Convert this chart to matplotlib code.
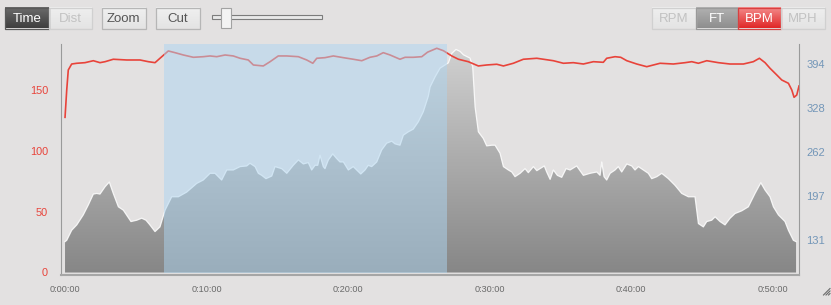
import numpy as np
import matplotlib
matplotlib.use("Agg")
import matplotlib.pyplot as plt
from matplotlib.colors import LinearSegmentedColormap
from matplotlib.patches import Rectangle

plt.rcParams["font.family"] = ["Liberation Sans", "DejaVu Sans"]

BG = "#e3e1e1"
RED = "#e8433a"
STEEL = "#7396b8"

# elevation trace (FT, right axis) against elapsed minutes
elev_t = [0.0, 0.12, 0.47, 0.83, 1.29, 1.65, 2.00, 2.24, 2.47, 2.83, 3.13, 3.41, 3.77,
          4.12, 4.66, 5.07, 5.42, 5.72, 5.96, 6.36, 6.71, 7.07, 7.54, 8.01, 8.60, 9.31,
          9.77, 10.25, 10.60, 10.83, 11.07, 11.43, 11.89, 12.37, 12.84, 13.07, 13.43,
          13.66, 13.90, 14.20, 14.61, 14.84, 15.31, 15.67, 16.13, 16.49, 16.84, 17.19,
          17.43, 17.67, 17.86, 18.02, 18.25, 18.37, 18.61, 18.92, 19.20, 19.43, 19.67,
          20.02, 20.37, 20.61, 20.90, 21.20, 21.43, 21.67, 22.03, 22.38, 22.73, 23.09,
          23.32, 23.67, 23.91, 24.26, 24.61, 24.97, 25.32, 25.67, 25.80, 26.15, 26.50,
          26.86, 27.09, 27.33, 27.63, 27.92, 28.15, 28.62, 28.81, 28.98, 29.21, 29.56,
          29.80, 30.16, 30.39, 30.74, 30.98, 31.33, 31.57, 31.80, 32.16, 32.51, 32.74,
          33.10, 33.34, 33.57, 33.87, 34.04, 34.28, 34.51, 34.79, 35.10, 35.41, 35.69,
          36.16, 36.63, 37.10, 37.58, 37.81, 37.93, 38.09, 38.28, 38.52, 38.87, 39.10,
          39.34, 39.70, 40.05, 40.28, 40.52, 40.87, 41.22, 41.46, 41.82, 42.17, 42.64,
          43.11, 43.58, 44.05, 44.52, 44.76, 45.11, 45.35, 45.70, 45.94, 46.29, 46.64,
          47.00, 47.35, 47.82, 48.29, 48.76, 49.17, 49.47, 49.82, 50.06, 50.41, 50.88,
          51.12, 51.47, 51.66]
elev_ft = [129, 131, 146, 154, 169, 184, 200, 201, 200, 211, 218, 201, 181,
           176, 159, 161, 164, 161, 155, 144, 151, 176, 196, 196, 203, 216,
           221, 231, 231, 226, 221, 236, 236, 241, 242, 246, 241,
           231, 228, 223, 227, 241, 238, 231, 243, 251, 245, 247,
           236, 243, 243, 258, 241, 238, 251, 260, 253, 248, 248,
           236, 241, 236, 230, 236, 243, 241, 248, 266, 276, 279,
           275, 273, 288, 293, 297, 308, 323, 346, 360, 375, 388,
           393, 396, 410, 416, 413, 408, 403, 390, 330, 293, 283,
           272, 273, 273, 261, 241, 236, 233, 226, 231, 238, 232,
           241, 235, 238, 242, 233, 222, 236, 228, 225, 238, 236,
           242, 228, 231, 233, 228, 248, 226, 221, 231, 236, 241,
           233, 245, 242, 236, 241, 236, 231, 223, 226, 231, 223,
           213, 201, 196, 196, 156, 151, 159, 161, 166, 159, 154,
           164, 171, 175, 181, 201, 217, 206, 196, 181, 169, 159,
           146, 131, 129]

# heart rate (BPM, left axis)
hr_t = [0.0, 0.12, 0.23, 0.47, 0.83, 1.41, 2.00, 2.47, 2.83, 3.41, 4.36, 5.30, 5.89,
        6.36, 6.71, 7.30, 7.77, 8.36, 9.07, 9.77, 10.25, 10.72, 11.31, 11.89, 12.37,
        12.95, 13.31, 14.01, 14.49, 15.07, 15.67, 16.49, 17.08, 17.51, 17.79, 18.37,
        18.96, 19.67, 20.37, 20.97, 21.55, 22.03, 22.49, 22.97, 23.67, 24.03, 24.61,
        25.21, 25.62, 26.27, 26.74, 27.33, 27.80, 28.50, 29.21, 29.80, 30.51, 30.98,
        31.68, 32.39, 33.34, 34.51, 35.22, 35.92, 36.63, 37.34, 38.04, 38.28, 38.87,
        39.27, 39.70, 40.40, 41.11, 42.05, 42.99, 43.82, 44.29, 44.76, 45.35, 46.17,
        46.99, 47.94, 48.64, 49.07, 49.47, 49.82, 50.30, 50.65, 51.12, 51.36, 51.52,
        51.71, 51.87]
hr_bpm = [127.2, 149.6, 166.0, 170.9, 171.5, 172.0, 173.6, 172.0, 172.8, 174.8, 174.2,
          174.2, 172.8, 172.0, 175.6, 181.6, 180.2, 178.3, 176.4, 176.9, 177.5, 176.9,
          178.3, 177.5, 175.6, 174.2, 170.1, 169.3, 172.8, 177.5, 177.5, 176.9, 174.2,
          171.5, 175.6, 176.1, 177.5, 176.1, 174.8, 173.6, 176.4, 177.5, 180.2, 178.3,
          174.8, 176.4, 176.4, 176.9, 180.6, 183.8, 181.8, 177.5, 174.8, 172.8, 169.3,
          170.1, 170.7, 169.3, 171.5, 174.8, 175.6, 173.6, 171.5, 172.0, 170.9, 172.8,
          172.3, 175.6, 176.9, 176.4, 173.6, 170.9, 168.7, 171.5, 170.9, 172.0, 172.8,
          171.5, 173.6, 172.0, 170.9, 170.9, 172.8, 175.6, 172.0, 167.4, 161.9, 157.8,
          155.1, 149.6, 143.6, 145.5, 152.9]

sel_start, sel_end = 7.0, 27.0

bpm_ticks = [0, 50, 100, 150]
ft_ticks = [131.4, 197.1, 262.8, 328.5, 394.2]
ft_labels = ["131", "197", "262", "328", "394"]
time_ticks = [0, 10, 20, 30, 40, 50]
time_labels = ["0:00:00", "0:10:00", "0:20:00", "0:30:00", "0:40:00", "0:50:00"]

W, H = 831, 305
fig = plt.figure(figsize=(W / 100, H / 100), dpi=100, facecolor=BG)
grad = np.linspace(0, 1, 256).reshape(-1, 1)

# ---- chart ----
ax = fig.add_axes([60.5 / W, 1 - 275 / H, (799.3 - 60.5) / W, 231 / H])
ax2 = ax.twinx()
ax.set_zorder(ax2.get_zorder() + 1)
ax.patch.set_visible(False)
ax2.patch.set_visible(False)

XLIM = (-0.32, 51.89)
BPM_LIM = (-2.05, 187.3)
FT_LIM = (79.2, 424.1)
FT_FLOOR = 82.9

area = ax2.fill_between(elev_t, elev_ft, FT_FLOOR, color="none", lw=0)
gray = LinearSegmentedColormap.from_list("gray", ["#d2d2d2", "#868686"])
img = ax2.imshow(grad, cmap=gray, extent=(XLIM[0], XLIM[1], FT_LIM[0], FT_LIM[1]),
                 origin="upper", aspect="auto", zorder=1)
img.set_clip_path(area.get_paths()[0], transform=ax2.transData)
ax2.plot(elev_t, elev_ft, color="white", lw=0.9, alpha=0.85, zorder=2)

ax.plot(hr_t, hr_bpm, color=RED, lw=1.2, zorder=3)
ax.axvspan(sel_start, sel_end, ymin=2.5 / 231, ymax=1, facecolor="#add5f1",
           alpha=0.5, lw=0, zorder=5)

ax.set_xlim(*XLIM)
ax.set_ylim(*BPM_LIM)
ax2.set_ylim(*FT_LIM)

ax.set_yticks(bpm_ticks)
ax.set_xticks(time_ticks)
ax.set_xticklabels(time_labels)
ax2.set_yticks(ft_ticks)
ax2.set_yticklabels(ft_labels)

ax.tick_params(axis="y", length=0, pad=9, labelsize=7.8, labelcolor=RED)
ax.tick_params(axis="x", length=0, pad=7, labelsize=6.6, labelcolor="#6a6a6a")
ax2.tick_params(axis="y", length=0, pad=5, labelsize=8, labelcolor=STEEL)

for s in ("top", "right"):
    ax.spines[s].set_visible(False)
for s in ("top", "left", "bottom"):
    ax2.spines[s].set_visible(False)
ax.spines["left"].set_color("#9a9a9a")
ax.spines["bottom"].set_color("#a6a6a6")
ax.spines["bottom"].set_linewidth(1.5)
ax2.spines["right"].set_color("#9a9a9a")

# ---- toolbar ----
ui = fig.add_axes([0, 0, 1, 1], zorder=-1)
ui.patch.set_visible(False)
ui.axis("off")


def button(x0, x1, label, top, bottom, edge, tcolor):
    y0, y1 = 7.5, 28.5
    cm = LinearSegmentedColormap.from_list(label, [top, bottom])
    ui.imshow(grad, cmap=cm, extent=(x0, x1, y1, y0), origin="upper", aspect="auto")
    ui.add_patch(Rectangle((x0, y0), x1 - x0, y1 - y0, fc="none", ec=edge, lw=0.9))
    ui.text((x0 + x1) / 2, (y0 + y1) / 2 + 0.5, label, ha="center", va="center",
            fontsize=9.5, color=tcolor)


button(5, 49, "Time", "#6c6c6c", "#3e3e3e", "#5a5a5a", "white")
button(49, 91.7, "Dist", "#efefef", "#e4e4e4", "#d0d0d0", "#c2c2c2")
button(102, 145.7, "Zoom", "#f0f0f0", "#e4e4e4", "#b6b6b6", "#555555")
button(156, 199.7, "Cut", "#f0f0f0", "#e4e4e4", "#b6b6b6", "#555555")
button(652.3, 695.7, "RPM", "#efefef", "#e4e4e4", "#d0d0d0", "#c2c2c2")
button(695.7, 738.3, "FT", "#b2b2b2", "#8e8e8e", "#9a9a9a", "white")
button(738.3, 781, "BPM", "#f48e8e", "#e02626", "#d84040", "white")
button(781, 825, "MPH", "#efefef", "#e4e4e4", "#d0d0d0", "#c2c2c2")

# slider
ui.add_patch(Rectangle((212, 15.3), 109.7, 4, fc="#e8e8e8", ec="#7c7c7c", lw=0.8))
ui.add_patch(Rectangle((221, 8.3), 9.7, 19.4, fc="#f3f3f3", ec="#a2a2a2", lw=0.8))

# resize grip
for d in (0, 2.5, 5):
    ui.plot([823.5 + d, 830], [295, 288.5 + d], color="#6a6a6a", lw=0.8)

ui.set_xlim(0, W)
ui.set_ylim(H, 0)

fig.savefig("out.png", dpi=100, facecolor=BG)
